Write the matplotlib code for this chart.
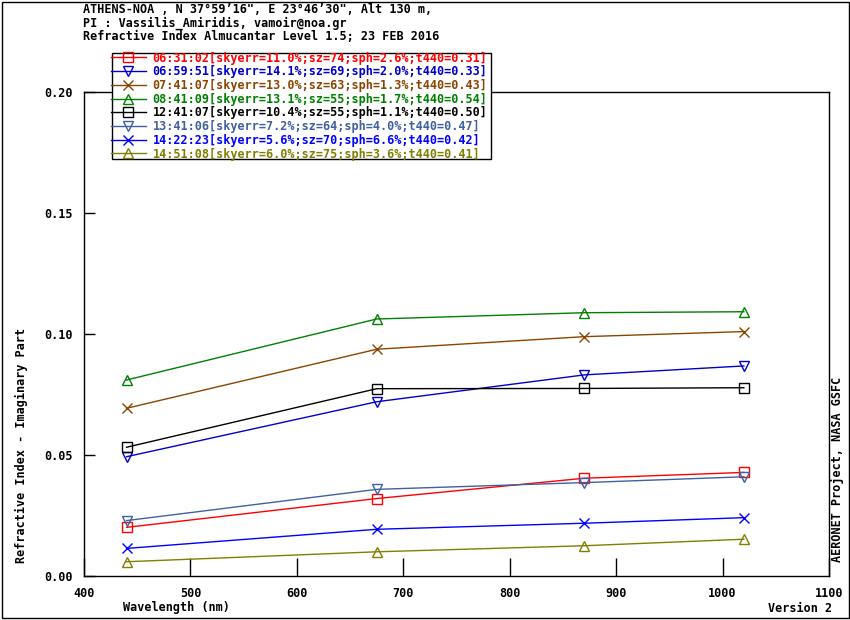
import matplotlib
matplotlib.use("Agg")
import matplotlib.pyplot as plt
from matplotlib.patches import Rectangle

wavelengths = [440, 675, 870, 1020]

labels = [
    "06:31:02[skyerr=11.0%;sz=74;sph=2.6%;t440=0.31]",
    "06:59:51[skyerr=14.1%;sz=69;sph=2.0%;t440=0.33]",
    "07:41:07[skyerr=13.0%;sz=63;sph=1.3%;t440=0.43]",
    "08:41:09[skyerr=13.1%;sz=55;sph=1.7%;t440=0.54]",
    "12:41:07[skyerr=10.4%;sz=55;sph=1.1%;t440=0.50]",
    "13:41:06[skyerr=7.2%;sz=64;sph=4.0%;t440=0.47]",
    "14:22:23[skyerr=5.6%;sz=70;sph=6.6%;t440=0.42]",
    "14:51:08[skyerr=6.0%;sz=75;sph=3.6%;t440=0.41]",
]

s0631 = [0.0201, 0.0320, 0.0404, 0.0428]
s0659 = [0.0493, 0.0720, 0.0831, 0.0868]
s0741 = [0.0693, 0.0937, 0.0989, 0.1010]
s0841 = [0.0810, 0.1062, 0.1088, 0.1092]
s1241 = [0.0532, 0.0774, 0.0775, 0.0778]
s1341 = [0.0229, 0.0358, 0.0386, 0.0410]
s1422 = [0.0114, 0.0193, 0.0218, 0.0241]
s1451 = [0.0059, 0.0100, 0.0125, 0.0152]

series = [s0631, s0659, s0741, s0841, s1241, s1341, s1422, s1451]
colors = ["#ff0000", "#0000cc", "#8b4500", "#008000", "#000000", "#4060a0", "#0000ff", "#808000"]
markers = ["s", "v", "x", "^", "s", "v", "x", "^"]

xticks = [400, 500, 600, 700, 800, 900, 1000, 1100]
yticks = [0.00, 0.05, 0.10, 0.15, 0.20]

FONT = "DejaVu Sans Mono"
FS = 8.5

plt.rcParams["font.family"] = [FONT]
plt.rcParams["font.weight"] = "bold"

W, H = 850, 620
fig = plt.figure(figsize=(8.5, 6.2), dpi=100)
ax = fig.add_axes([84 / W, (H - 576) / H, 745 / W, 484 / H])

handles = []
for ys, c, m, lab in zip(series, colors, markers, labels):
    h, = ax.plot(wavelengths, ys, color=c, lw=1.0, marker=m, markersize=6.5,
                 markerfacecolor="none", markeredgecolor=c, markeredgewidth=1.0,
                 label=lab)
    handles.append(h)

ax.set_xlim(400, 1100)
ax.set_ylim(0, 0.20)
ax.set_xticks(xticks)
ax.set_xticklabels([str(v) for v in xticks], fontsize=FS, fontweight="bold")
ax.set_yticks(yticks)
ax.set_yticklabels(["%.2f" % v for v in yticks], fontsize=FS, fontweight="bold")
ax.tick_params(axis="x", direction="in", length=13, width=1, pad=8)
ax.tick_params(axis="y", direction="in", length=8, width=1, pad=8)
for sp in ax.spines.values():
    sp.set_linewidth(1.0)

leg_top = 1 - 53 / H
leg_h = 103 / H
leg = ax.legend(handles=handles, loc="upper left", mode="expand",
                bbox_to_anchor=(112 / W, leg_top - leg_h, 379 / W, leg_h),
                bbox_transform=fig.transFigure,
                frameon=True, fancybox=False, edgecolor="black", framealpha=1,
                borderpad=-0.12, labelspacing=0.06, handlelength=3.0, handletextpad=0.55,
                borderaxespad=0, prop={"family": FONT, "weight": "bold", "size": FS})
leg.get_frame().set_linewidth(1.0)
for t, c in zip(leg.get_texts(), colors):
    t.set_color(c)

title_lines = [
    "ATHENS-NOA , N 37\u00b059\u201916\", E 23\u00b046\u201930\", Alt 130 m,",
    "PI : Vassilis_Amiridis, vamoir@noa.gr",
    "Refractive Index Almucantar Level 1.5; 23 FEB 2016",
]
for i, line in enumerate(title_lines):
    fig.text(83 / W, 1 - (9.5 + 13.5 * i) / H, line, ha="left", va="center",
             fontsize=FS, fontweight="bold")

fig.text(123 / W, 1 - 608 / H, "Wavelength (nm)", ha="left", va="center",
         fontsize=FS, fontweight="bold")
fig.text(832 / W, 1 - 608 / H, "Version 2", ha="right", va="center",
         fontsize=FS, fontweight="bold")
fig.text(21 / W, 1 - 563 / H, "Refractive Index - Imaginary Part", ha="center", va="bottom",
         rotation=90, fontsize=FS, fontweight="bold")
fig.text(837 / W, 1 - 562 / H, "AERONET Project, NASA GSFC", ha="center", va="bottom",
         rotation=90, fontsize=FS, fontweight="bold")

fig.patches.append(Rectangle((1.5 / W, 2.5 / H), (W - 3) / W, (H - 4) / H,
                             transform=fig.transFigure, fill=False,
                             edgecolor="black", linewidth=1.0))

fig.savefig("out.png", dpi=100)
